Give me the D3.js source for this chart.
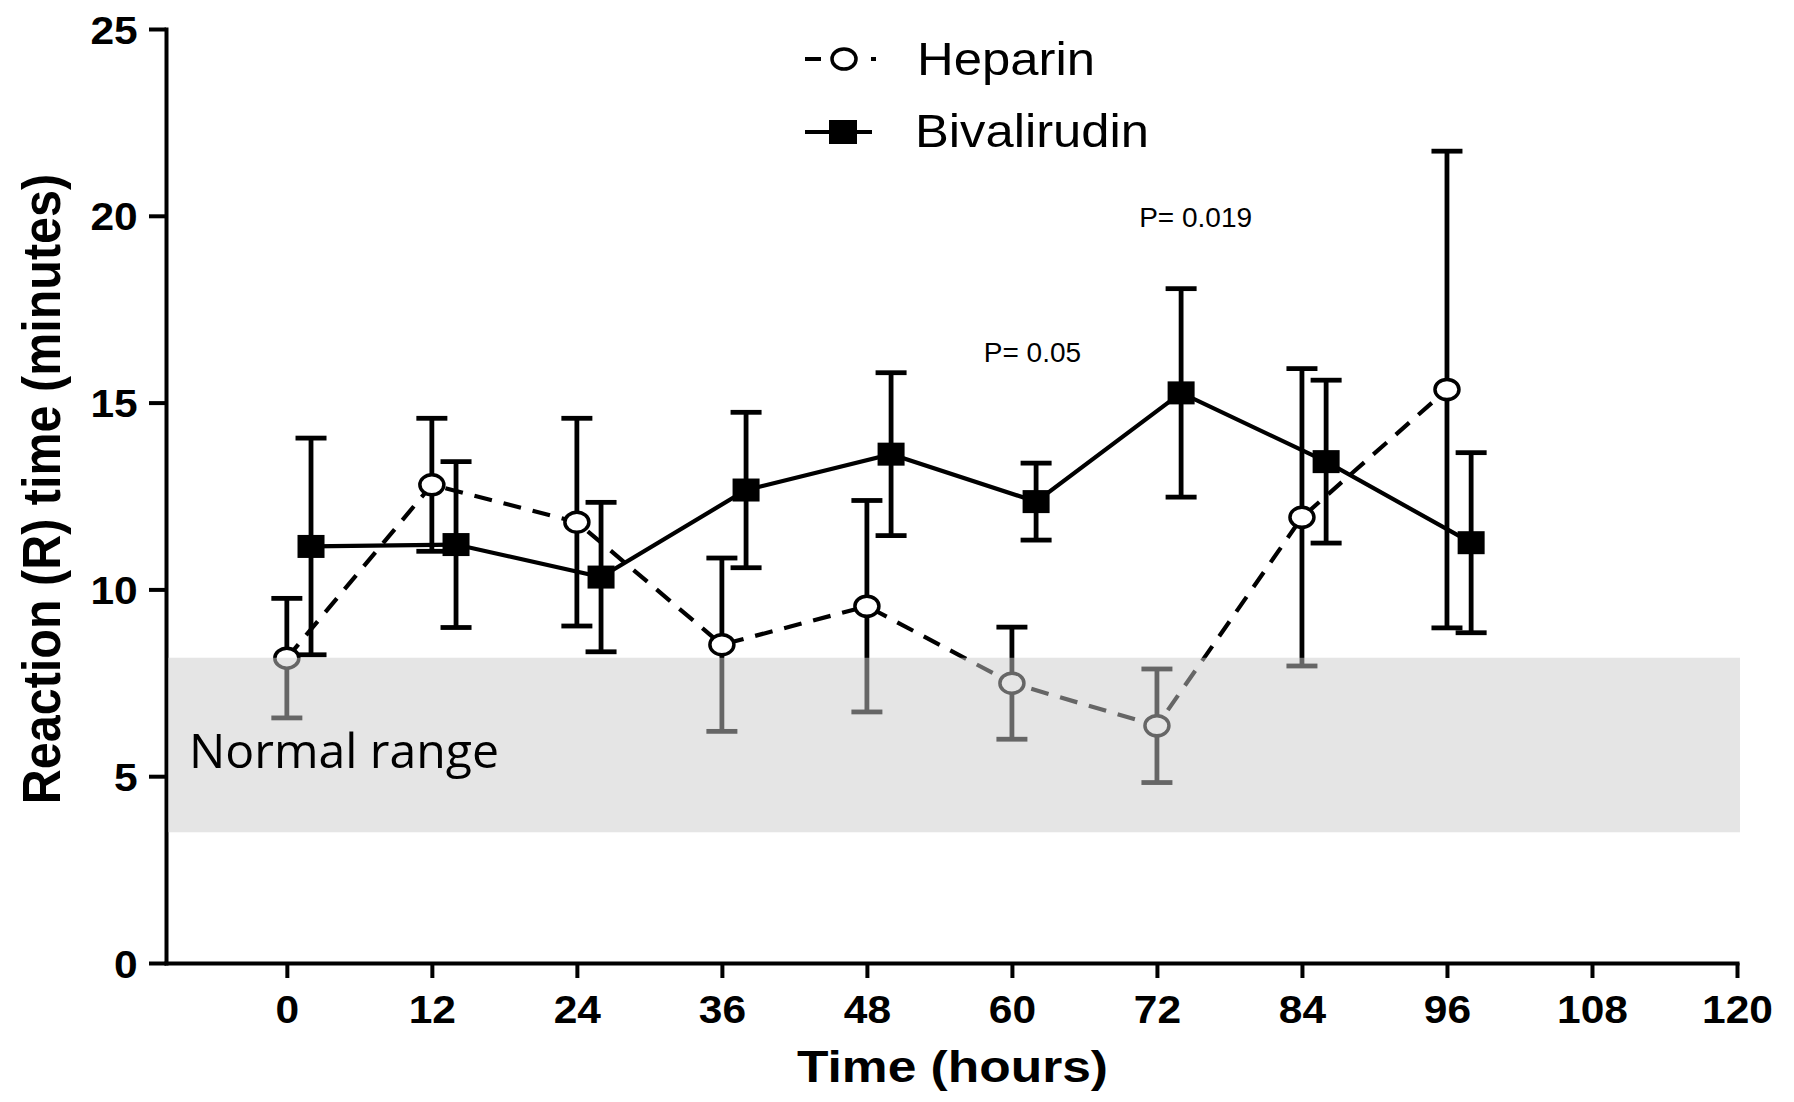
<!DOCTYPE html>
<html>
<head>
<meta charset="utf-8">
<script src="https://cdn.jsdelivr.net/npm/d3@7"></script>
<style>
  html, body { margin: 0; padding: 0; background: #fff; }
  svg { display: block; }
</style>
</head>
<body>
<svg id="chart" width="1794" height="1102"></svg>
<script>
// data (R time, minutes, mean +/- SD)
const hours = [0, 12, 24, 36, 48, 60, 72, 84, 96];
const heparinMean = [8.16, 12.8, 11.8, 8.52, 9.55, 7.49, 6.35, 11.93, 15.35];
const heparinSD = [1.6, 1.78, 2.78, 2.32, 2.83, 1.5, 1.52, 3.98, 6.38];
const bivalirudinMean = [11.15, 11.2, 10.33, 12.66, 13.62, 12.35, 15.26, 13.42, 11.25];
const bivalirudinSD = [2.9, 2.22, 2.0, 2.08, 2.18, 1.03, 2.79, 2.18, 2.41];

const xTicks = [0, 12, 24, 36, 48, 60, 72, 84, 96, 108, 120];
const yTicks = [0, 5, 10, 15, 20, 25];
const normalRange = [3.5, 8.17];

const pLabels = ['P= 0.05', 'P= 0.019'];
const pHours = [61.7, 75.2];
const pValues = [16.1, 19.7];

const seriesNames = ['Heparin', 'Bivalirudin'];

// bivalirudin points are nudged right so the bars don't sit on top of each other
const bivalOffset = 2;

const svg = d3.select('#chart');
svg.append('rect').attr('width', 1794).attr('height', 1102).attr('fill', '#fff');

const x = d3.scaleLinear().domain([-10, 120]).range([166, 1737]);
const y = d3.scaleLinear().domain([0, 25]).range([963, 29]);

const axisFont = '"Liberation Sans", Arial, sans-serif';

// axes
const xAxis = svg.append('g')
  .attr('transform', `translate(0,${y(0)})`)
  .call(d3.axisBottom(x).tickValues(xTicks).tickSize(15).tickSizeOuter(0));
xAxis.select('.domain').attr('stroke-width', 4).attr('stroke-linecap', 'square');
xAxis.selectAll('.tick line').attr('stroke-width', 4);
xAxis.selectAll('.tick text')
  .attr('y', 60).attr('dy', null)
  .attr('font-family', axisFont).attr('font-weight', 'bold').attr('font-size', 39)
  .attr('fill', '#000')
  .attr('transform', 'scale(1.09,1)');

const yAxis = svg.append('g')
  .attr('transform', `translate(${x(-10)},0)`)
  .call(d3.axisLeft(y).tickValues(yTicks).tickSize(17).tickSizeOuter(0));
yAxis.select('.domain').attr('stroke-width', 4).attr('stroke-linecap', 'square');
yAxis.selectAll('.tick line').attr('stroke-width', 4);
yAxis.selectAll('.tick text')
  .attr('x', -26).attr('dy', '0.36em')
  .attr('font-family', axisFont).attr('font-weight', 'bold').attr('font-size', 39)
  .attr('fill', '#000')
  .attr('transform', 'scale(1.09,1)');

const heparin = hours.map((h, i) => ({ h: h, m: heparinMean[i], sd: heparinSD[i] }));
const bival = hours.map((h, i) => ({ h: h + bivalOffset, m: bivalirudinMean[i], sd: bivalirudinSD[i] }));

const line = d3.line().x(d => x(d.h)).y(d => y(d.m));
const capW = 31;

function errorBars(data) {
  const g = svg.append('g').attr('stroke', '#000').attr('stroke-width', 4.8);
  data.forEach(d => {
    g.append('line')
      .attr('x1', x(d.h)).attr('x2', x(d.h))
      .attr('y1', y(d.m - d.sd)).attr('y2', y(d.m + d.sd));
    [d.m - d.sd, d.m + d.sd].forEach(v => {
      g.append('line')
        .attr('x1', x(d.h) - capW / 2).attr('x2', x(d.h) + capW / 2)
        .attr('y1', y(v)).attr('y2', y(v));
    });
  });
}

// heparin: dashed line, open markers
svg.append('path').datum(heparin)
  .attr('d', line)
  .attr('fill', 'none').attr('stroke', '#000')
  .attr('stroke-width', 4.2).attr('stroke-dasharray', '18,12');
errorBars(heparin);

// bivalirudin: solid line, filled squares
svg.append('path').datum(bival)
  .attr('d', line)
  .attr('fill', 'none').attr('stroke', '#000').attr('stroke-width', 4.2);
errorBars(bival);

svg.selectAll('.hep').data(heparin).enter().append('ellipse')
  .attr('class', 'hep')
  .attr('cx', d => x(d.h)).attr('cy', d => y(d.m))
  .attr('rx', 12).attr('ry', 10)
  .attr('fill', '#fff').attr('stroke', '#000').attr('stroke-width', 3.5);

svg.selectAll('.biv').data(bival).enter().append('rect')
  .attr('class', 'biv')
  .attr('x', d => x(d.h) - 13.5).attr('y', d => y(d.m) - 11.5)
  .attr('width', 27).attr('height', 23)
  .attr('fill', '#000');

// normal range band, laid over the data so it greys what's underneath
svg.append('rect')
  .attr('x', x(-10) + 2).attr('y', y(normalRange[1]))
  .attr('width', 1740 - x(-10) - 2)
  .attr('height', y(normalRange[0]) - y(normalRange[1]))
  .attr('fill', '#cbcbcb').attr('fill-opacity', 0.5);

svg.append('text')
  .attr('x', 189).attr('y', 768)
  .attr('font-family', '"Open Sans", "Noto Sans", sans-serif')
  .attr('font-size', 48)
  .attr('textLength', 310).attr('lengthAdjust', 'spacingAndGlyphs')
  .text('Normal range');

// p-values
pLabels.forEach((t, i) => {
  svg.append('text')
    .attr('x', x(pHours[i])).attr('y', y(pValues[i]))
    .attr('text-anchor', 'middle')
    .attr('font-family', axisFont).attr('font-size', 28)
    .text(t);
});

// legend
const leg = svg.append('g');
leg.append('line')
  .attr('x1', 805).attr('x2', 876).attr('y1', 59).attr('y2', 59)
  .attr('stroke', '#000').attr('stroke-width', 4).attr('stroke-dasharray', '16,50,5');
leg.append('ellipse')
  .attr('cx', 844).attr('cy', 59).attr('rx', 12).attr('ry', 10)
  .attr('fill', '#fff').attr('stroke', '#000').attr('stroke-width', 3.5);
leg.append('line')
  .attr('x1', 805).attr('x2', 872).attr('y1', 132).attr('y2', 132)
  .attr('stroke', '#000').attr('stroke-width', 4);
leg.append('rect')
  .attr('x', 829).attr('y', 120).attr('width', 28).attr('height', 24)
  .attr('fill', '#000');
leg.append('text')
  .attr('x', 917).attr('y', 75)
  .attr('font-family', axisFont).attr('font-size', 46)
  .attr('textLength', 178).attr('lengthAdjust', 'spacingAndGlyphs')
  .text(seriesNames[0]);
leg.append('text')
  .attr('x', 915).attr('y', 147)
  .attr('font-family', axisFont).attr('font-size', 46)
  .attr('textLength', 234).attr('lengthAdjust', 'spacingAndGlyphs')
  .text(seriesNames[1]);

// axis titles
svg.append('text')
  .attr('x', 797).attr('y', 1082)
  .attr('font-family', axisFont).attr('font-weight', 'bold').attr('font-size', 44)
  .attr('textLength', 311).attr('lengthAdjust', 'spacingAndGlyphs')
  .text('Time (hours)');

svg.append('text')
  .attr('transform', 'translate(60,489) rotate(-90) scale(1,1.1)')
  .attr('text-anchor', 'middle')
  .attr('font-family', axisFont).attr('font-weight', 'bold').attr('font-size', 48.5)
  .text('Reaction (R) time (minutes)');
</script>
</body>
</html>
